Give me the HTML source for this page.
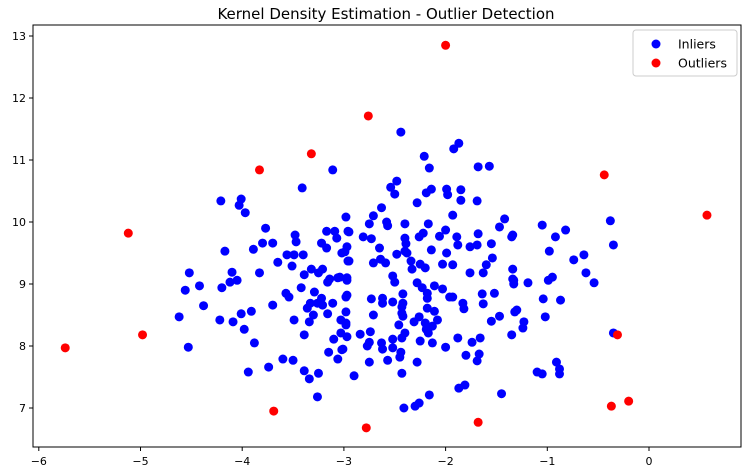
<!DOCTYPE html>
<html><head><meta charset="utf-8">
<style>
html,body{margin:0;padding:0;background:#fff;}
svg{display:block;font-family:"DejaVu Sans","Liberation Sans",sans-serif;}
</style></head>
<body>
<svg id="chart" width="743" height="471" viewBox="0 0 743 471">
<text x="386" y="19" text-anchor="middle" font-size="15" fill="#000">Kernel Density Estimation - Outlier Detection</text>
<g id="marks"></g>
<g id="axes"></g>
<g>
<rect x="633" y="30" width="104" height="46" rx="3" fill="#fff" fill-opacity="0.8" stroke="#ccc"/>
<circle cx="656" cy="44" r="4.5" fill="#0000ff"/>
<text x="678" y="48.5" font-size="12.5">Inliers</text>
<circle cx="656" cy="63" r="4.5" fill="#ff0000"/>
<text x="678" y="67.5" font-size="12.5">Outliers</text>
</g>
</svg>
<script>
const inlierX=[-3.11,-3.41,-4.21,-4.01,-4.03,-3.97,-2.98,-3.77,-3.17,-3.09,-2.96,-3.48,-3.47,-3.07,-3.80,-3.70,-3.22,-3.17,-4.17,-3.89,-3.56,-3.49,-3.40,-3.02,-2.97,-3.65,-3.51,-2.96,-4.52,-4.10,-3.83,-3.32,-3.21,-3.25,-3.39,-3.14,-3.04,-4.05,
-4.56,-4.42,-4.20,-4.12,-4.38,-4.62,-4.22,-4.09,-4.01,-3.91,-3.70,-3.98,-3.88,-4.53,-3.49,-3.57,-3.54,-3.42,-3.29,-3.36,-3.33,-3.26,-3.21,-3.22,-3.11,-3.16,-2.97,-3.06,-2.97,-3.16,-3.30,-3.34,-3.03,-2.98,-2.98,-3.39,-3.03,-3.10,-2.97,-3.15,-3.02,-3.06,-3.60,-3.50,-3.74,-3.94,-3.39,-3.25,-3.34,-3.26,
-2.44,-1.87,-1.92,-2.21,-2.16,-1.68,-1.57,-2.48,-2.54,-2.50,-2.14,-2.19,-2.28,-1.99,-1.98,-1.85,-1.85,-1.69,-2.63,-1.93,-2.71,-2.95,-2.75,-2.58,-2.57,-2.40,-2.17,-1.42,-1.47,-2.81,-2.73,-2.40,-2.26,-2.22,-2.06,-2.00,-1.89,-1.68,-1.35,-2.65,-2.39,-1.88,-1.76,-1.69,-1.55,-2.40,-2.14,-1.99,-2.48,-2.38,-2.99,-2.95,-2.71,-2.64,-2.59,-2.34,-2.25,-2.20,-2.03,-1.93,-1.54,-1.60,-1.34,-1.76,-1.63,-2.52,-2.33,-1.34,
-2.97,-2.50,-2.28,-2.23,-2.11,-2.03,-2.18,-1.96,-1.93,-1.64,-1.52,-2.98,-2.73,-2.62,-2.62,-2.52,-2.42,-2.42,-2.18,-1.83,-1.82,-1.63,-2.71,-2.43,-2.43,-2.42,-2.18,-2.11,-2.26,-2.31,-2.20,-2.08,-2.13,-1.55,-1.47,-1.32,-2.98,-2.46,-2.19,-2.17,-2.84,-2.74,-2.40,-2.52,-2.43,-2.25,-2.13,-1.88,-1.74,-1.66,-1.35,-2.75,-2.77,-2.63,-2.62,-2.52,-2.44,-2.45,-3.01,-2.00,-1.80,-1.67,-1.69,-2.57,-2.75,-2.28,-2.43,-2.90,-1.87,-1.81,-2.16,-1.45,-2.26,-2.30,-2.41,
-1.34,-1.05,-0.92,-0.82,-0.38,-0.35,-0.98,-0.74,-0.64,-1.33,-1.33,-1.19,-0.99,-0.95,-0.62,-0.54,-1.04,-0.87,-1.30,-1.23,-1.24,-1.02,-0.35,-0.91,-1.10,-1.05,-0.88,-0.88];
const inlierY=[10.84,10.55,10.34,10.37,10.27,10.15,10.08,9.90,9.85,9.85,9.85,9.79,9.68,9.74,9.66,9.66,9.66,9.58,9.53,9.56,9.47,9.47,9.47,9.50,9.60,9.35,9.29,9.37,9.18,9.19,9.18,9.24,9.24,9.18,9.15,9.08,9.11,9.06,
8.90,8.97,8.94,9.03,8.65,8.47,8.42,8.39,8.52,8.56,8.66,8.27,8.05,7.98,8.42,8.85,8.79,8.94,8.87,8.61,8.69,8.69,8.66,8.77,8.69,9.03,9.06,9.10,8.82,8.52,8.50,8.39,8.42,8.34,8.55,8.18,8.21,8.11,8.15,7.90,7.94,7.79,7.79,7.77,7.66,7.58,7.60,7.56,7.47,7.18,
11.45,11.27,11.18,11.06,10.87,10.89,10.90,10.66,10.56,10.45,10.53,10.47,10.31,10.53,10.44,10.52,10.35,10.34,10.23,10.11,10.10,9.84,9.97,10.00,9.94,9.97,9.97,10.05,9.92,9.76,9.73,9.74,9.76,9.82,9.77,9.87,9.76,9.81,9.76,9.58,9.65,9.63,9.60,9.63,9.65,9.53,9.55,9.50,9.48,9.50,9.52,9.37,9.34,9.40,9.34,9.37,9.32,9.26,9.32,9.31,9.42,9.31,9.24,9.18,9.18,9.13,9.24,9.08,
9.10,9.03,9.02,8.94,8.97,8.92,8.85,8.79,8.79,8.84,8.85,8.79,8.76,8.77,8.69,8.71,8.84,8.69,8.77,8.69,8.60,8.68,8.50,8.63,8.53,8.48,8.61,8.56,8.47,8.39,8.37,8.42,8.32,8.40,8.48,8.55,8.37,8.34,8.27,8.21,8.19,8.23,8.21,8.11,8.13,8.08,8.05,8.13,8.06,8.13,8.18,8.06,8.00,8.05,7.95,7.97,7.90,7.82,7.95,7.98,7.85,7.87,7.76,7.77,7.74,7.74,7.56,7.52,7.32,7.37,7.21,7.23,7.08,7.03,7.00,
9.79,9.95,9.76,9.87,10.02,9.63,9.53,9.39,9.47,9.06,9.00,9.02,9.06,9.11,9.18,9.02,8.76,8.74,8.58,8.39,8.29,8.47,8.21,7.74,7.58,7.55,7.63,7.55];
const outlierX=[-5.74,-5.12,-4.98,-3.83,-3.69,-3.32,-2.78,-2.76,-2.00,-1.68,-0.44,-0.37,-0.31,-0.20,0.57];
const outlierY=[7.97,9.82,8.18,10.84,6.95,11.10,6.68,11.71,12.85,6.77,10.76,7.03,8.18,7.11,10.11];
const xTicks=[-6,-5,-4,-3,-2,-1,0];
const yTicks=[7,8,9,10,11,12,13];

const NS="http://www.w3.org/2000/svg";
const L=33,R=741,T=25,B=447;
function sx(v){return 649+v*101.7;}
function sy(v){return 842-v*62;}
const marks=document.getElementById('marks');
const axes=document.getElementById('axes');
function dot(x,y,c,name){
  const el=document.createElementNS(NS,'circle');
  el.setAttribute('cx',sx(x));el.setAttribute('cy',sy(y));el.setAttribute('r',4.5);el.setAttribute('fill',c);
  
  
  marks.appendChild(el);
}
for(let i=0;i<inlierX.length;i++) dot(inlierX[i],inlierY[i],'#0000ff','inlier-point');
for(let i=0;i<outlierX.length;i++) dot(outlierX[i],outlierY[i],'#ff0000','outlier-point');

const frame=document.createElementNS(NS,'rect');
frame.setAttribute('x',L);frame.setAttribute('y',T);frame.setAttribute('width',R-L);frame.setAttribute('height',B-T);
frame.setAttribute('fill','none');frame.setAttribute('stroke','#000');frame.setAttribute('stroke-width','1');


axes.appendChild(frame);

xTicks.forEach(t=>{
  const x=sx(t);
  const ln=document.createElementNS(NS,'line');
  ln.setAttribute('x1',x);ln.setAttribute('x2',x);ln.setAttribute('y1',B);ln.setAttribute('y2',B+4);ln.setAttribute('stroke','#000');
  
  
  axes.appendChild(ln);
  const tx=document.createElementNS(NS,'text');
  tx.setAttribute('x',x);tx.setAttribute('y',B+18);tx.setAttribute('text-anchor','middle');tx.setAttribute('font-size','11');
  tx.textContent=t<0?'\u2212'+Math.abs(t):String(t);
  
  
  axes.appendChild(tx);
});
yTicks.forEach(t=>{
  const y=sy(t);
  const ln=document.createElementNS(NS,'line');
  ln.setAttribute('x1',L-4);ln.setAttribute('x2',L);ln.setAttribute('y1',y);ln.setAttribute('y2',y);ln.setAttribute('stroke','#000');
  
  
  axes.appendChild(ln);
  const tx=document.createElementNS(NS,'text');
  tx.setAttribute('x',L-7);tx.setAttribute('y',y+4);tx.setAttribute('text-anchor','end');tx.setAttribute('font-size','11');
  tx.textContent=String(t);
  
  
  axes.appendChild(tx);
});
</script>
</body></html>
